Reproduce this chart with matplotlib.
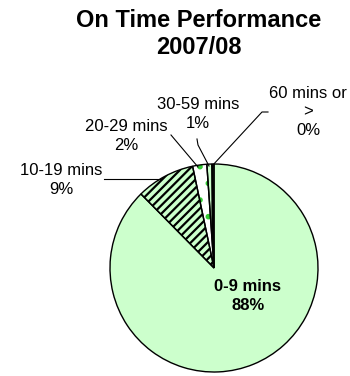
import matplotlib.pyplot as plt

plt.rcParams['font.family'] = ['Liberation Sans', 'DejaVu Sans']
plt.rcParams['hatch.linewidth'] = 1.6

# delay bands and share of trains (%)
categorias = ['0-9 mins', '10-19 mins', '20-29 mins', '30-59 mins', '60 mins or\n>']
valores = [87.6, 9.1, 2.2, 0.8, 0.3]
cores = ['#CCFFCC', '#CCFFCC', 'white', '#CCFFCC', '#CCFFCC']
hachuras = ['', '////', '.', '||', '||']
cor_hachura = ['black', 'black', '#33CC33', 'black', 'black']

fig = plt.figure(figsize=(3.5, 3.76), dpi=100)
ax = fig.add_axes([0, 0, 1, 1])

centro = (214, 108)
raio = 104

# fill + hatch first, then the black outlines on top
fatias, _ = ax.pie(valores, colors=cores, startangle=90, counterclock=False,
                   center=centro, radius=raio, frame=True,
                   wedgeprops=dict(linewidth=0))
for f, h, c in zip(fatias, hachuras, cor_hachura):
    f.set_hatch(h)
    f.set_edgecolor(c)
    f.set_linewidth(0)
ax.pie(valores, startangle=90, counterclock=False, center=centro, radius=raio,
       frame=True, wedgeprops=dict(fill=False, edgecolor='black', linewidth=1))
ax.set_xlim(0, 350)
ax.set_ylim(0, 376)
ax.set_aspect('equal')
ax.axis('off')

rotulos = [f'{c}\n{v:.0f}%' for c, v in zip(categorias, valores)]

# label positions (pixels from top-left)
pos = [(248, 296), (61, 180), (126, 136), (198, 114), (308, 112)]
for i, (r, (x, y)) in enumerate(zip(rotulos, pos)):
    ax.text(x, 376 - y, r, ha='center', va='center', fontsize=12,
            fontweight='bold' if i == 0 else 'normal', linespacing=1.3)

# leader lines
linhas = [
    [(104, 179), (161, 179)],
    [(171, 135), (198, 167)],
    [(197, 139), (198, 145), (209, 166)],
    [(268, 112), (262, 112), (212, 166)],
]
for l in linhas:
    xs = [p[0] for p in l]
    ys = [376 - p[1] for p in l]
    ax.plot(xs, ys, color='black', linewidth=0.8)

fig.text(199 / 350, 1 - 34 / 376, 'On Time Performance\n2007/08', ha='center',
         va='center', fontsize=17, fontweight='bold', linespacing=1.2)

fig.savefig('out.png', dpi=100)
